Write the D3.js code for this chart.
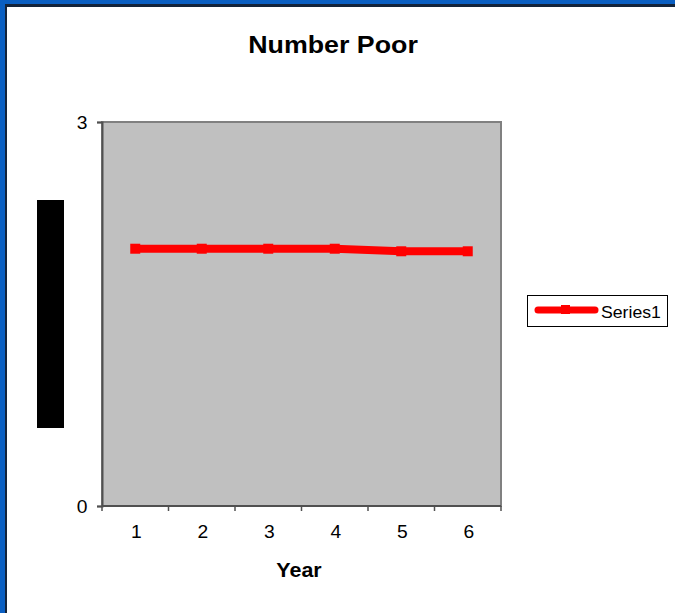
<!DOCTYPE html>
<html><head><meta charset="utf-8">
<script src="https://cdn.jsdelivr.net/npm/d3@7"></script>
<style>html,body{margin:0;padding:0;background:#fff;}svg{display:block;}</style>
</head><body>
<script>
const title = "Number Poor";
const xAxisTitle = "Year";
const categories = ["1","2","3","4","5","6"];
const seriesName = "Series1";
const values = [2.01, 2.01, 2.01, 2.01, 1.99, 1.99];
const yTicks = [0, 3];

const W = 675, H = 613;
const svg = d3.select("body").append("svg").attr("width", W).attr("height", H);

// frame
svg.append("rect").attr("x",0).attr("y",0).attr("width",W).attr("height",H).attr("fill","#0a5fc2");
svg.append("rect").attr("x",5).attr("y",4).attr("width",W-5).attr("height",H-4).attr("fill","#14243a");
svg.append("rect").attr("x",7).attr("y",7).attr("width",W-7).attr("height",H-7).attr("fill","#ffffff");

const plot = {l:102, t:122, r:501, b:506};
const x = d3.scaleBand().domain(categories).range([plot.l, plot.r]);
const y = d3.scaleLinear().domain([0,3]).range([plot.b, plot.t]);

function stretchedText(g, tx, ty, txt, opts) {
  return g.append("text")
    .attr("transform", `translate(${tx},${ty}) scale(${opts.sx||1},1)`)
    .attr("text-anchor", opts.anchor||"middle")
    .attr("font-family","'Liberation Sans', Arial, sans-serif")
    .attr("font-size", opts.size)
    .attr("font-weight", opts.weight||"normal")
    .attr("fill","#000")
    .text(txt);
}

// plot area
svg.append("rect").attr("x",plot.l).attr("y",plot.t).attr("width",plot.r-plot.l).attr("height",plot.b-plot.t)
  .attr("fill","#c0c0c0").attr("stroke","#808080").attr("stroke-width",2);

// y axis
const yAxis = d3.axisLeft(y).tickValues(yTicks).tickSize(5).tickFormat(d3.format("d"));
const gy = svg.append("g").attr("transform",`translate(${plot.l},0)`).call(yAxis);
gy.select(".domain").attr("stroke","#505050").attr("stroke-width",2);
gy.selectAll(".tick line").attr("stroke","#505050").attr("stroke-width",1.5);
gy.selectAll(".tick text").remove();
yTicks.forEach(v => stretchedText(svg, 82, y(v)+6.5, String(v), {size:17.5, sx:1.1}));

// x axis (category ticks at boundaries)
const gx = svg.append("g").attr("transform",`translate(0,${plot.b})`);
gx.append("line").attr("x1",plot.l).attr("x2",plot.r).attr("y1",0).attr("y2",0).attr("stroke","#505050").attr("stroke-width",2);
const bounds = categories.map(c => x(c)).concat([plot.r]);
gx.selectAll("line.tk").data(bounds).join("line").attr("class","tk")
  .attr("x1",d=>d).attr("x2",d=>d).attr("y1",0).attr("y2",5).attr("stroke","#505050").attr("stroke-width",1.5);
categories.forEach(c => stretchedText(svg, x(c)+x.bandwidth()/2+1, 538, c, {size:17.5, sx:1.1}));

// titles
stretchedText(svg, 333, 53, title, {size:23.5, weight:"bold", sx:1.14});
stretchedText(svg, 299, 577, xAxisTitle, {size:19.5, weight:"bold", sx:1.1});

// black box (y-axis title placeholder)
svg.append("rect").attr("x",37).attr("y",200).attr("width",27).attr("height",228).attr("fill","#000");

// line
const line = d3.line().x((d,i)=>x(categories[i])+x.bandwidth()/2).y(d=>y(d));
svg.append("path").datum(values).attr("d",line).attr("fill","none").attr("stroke","#ff0000").attr("stroke-width",8).attr("stroke-linejoin","round");
svg.selectAll("rect.mk").data(values).join("rect").attr("class","mk")
  .attr("x",(d,i)=>x(categories[i])+x.bandwidth()/2-5).attr("y",d=>y(d)-5)
  .attr("width",10).attr("height",10).attr("fill","#ff0000");

// legend
const lg = svg.append("g");
lg.append("rect").attr("x",527.5).attr("y",295.5).attr("width",140).attr("height",31).attr("fill","#fff").attr("stroke","#000").attr("stroke-width",1);
lg.append("line").attr("x1",538).attr("x2",595).attr("y1",310).attr("y2",310).attr("stroke","#ff0000").attr("stroke-width",7).attr("stroke-linecap","round");
lg.append("rect").attr("x",561).attr("y",305).attr("width",9).attr("height",9).attr("fill","#ff0000");
stretchedText(lg, 601, 317.5, seriesName, {size:17, anchor:"start", sx:1.04});
</script>
</body></html>
